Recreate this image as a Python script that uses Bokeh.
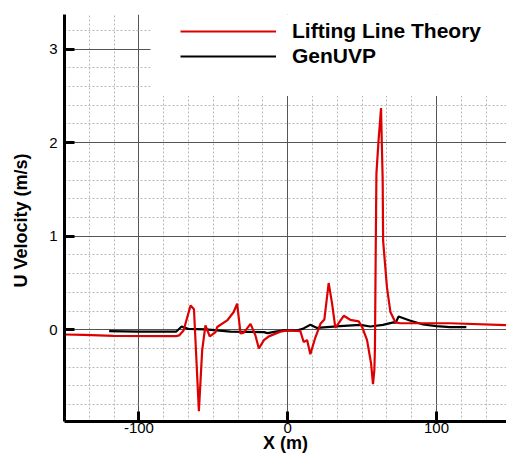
import math
from bokeh.plotting import figure
from bokeh.models import (Range1d, SingleIntervalTicker, Legend, LegendItem,
                          BoxAnnotation, ColumnDataSource)
from bokeh.embed import file_html
from bokeh.resources import INLINE

# ---- data ----
llt_x = [-150, -137, -117, -75, -73, -70, -65.3, -63, -59.7, -57.5, -55.3, -52.4,
         -48.5, -47.4, -40.7, -36.3, -34, -31.7, -29.5, -25, -21.7, -19.4, -16,
         -12.7, -5, 0, 8.5, 10.7, 13, 15.2, 18.6, 22, 24.6, 27.5, 29.8, 32, 37.6,
         42, 47.7, 50, 53.3, 56, 57.3, 58.2, 58.6, 59.2, 59.6, 61, 62.7, 63.2,
         63.8, 64.1, 66.7, 69, 72.3, 75.6, 109, 147]
llt_y = [-0.05, -0.055, -0.065, -0.068, -0.06, -0.007, 0.26, 0.22, -0.87, -0.22,
         0.046, -0.07, -0.025, 0.03, 0.1, 0.19, 0.28, -0.04, -0.03, 0.064, -0.06,
         -0.2, -0.11, -0.07, -0.02, -0.007, -0.015, -0.13, -0.11, -0.26, -0.08,
         0.064, 0.11, 0.5, 0.28, 0.02, 0.15, 0.107, 0.09, 0.03, -0.11, -0.36,
         -0.58, -0.43, -0.2, 1.0, 1.67, 2.02, 2.37, 2.0, 1.6, 0.95, 0.45, 0.19,
         0.08, 0.07, 0.07, 0.05]

uvp_x = [-120, -100, -75, -71.3, -67, -55, -38.5, -16, -13.6, -8, -3, 6.5, 10,
         15.2, 19.7, 35, 48.8, 55.5, 64, 71, 72.5, 74.5, 82, 91, 100, 109, 120]
uvp_y = [-0.015, -0.02, -0.02, 0.035, 0.01, 0.005, -0.02, -0.025, -0.036, -0.02,
         -0.007, -0.005, 0.01, 0.053, 0.02, 0.04, 0.053, 0.035, 0.053, 0.08, 0.075,
         0.142, 0.1, 0.057, 0.04, 0.028, 0.028]

series_names = ["Lifting Line Theory", "GenUVP"]
x_title = "X (m)"
y_title = "U Velocity  (m/s)"
x_tick_labels = {-100: "-100", 0: "0", 100: "100"}

FONT = "Liberation Sans"

p = figure(width=506, height=457,
           x_range=Range1d(-150, 147), y_range=Range1d(-0.98, 3.37),
           output_backend="svg", toolbar_location=None,
           min_border_left=64, min_border_right=0,
           min_border_top=14, min_border_bottom=36)
p.outline_line_color = None
p.background_fill_color = "white"
p.border_fill_color = "white"

p.xaxis.ticker = SingleIntervalTicker(interval=100, num_minor_ticks=6)
p.yaxis.ticker = SingleIntervalTicker(interval=1, num_minor_ticks=5)
p.xaxis.major_label_overrides = x_tick_labels

for ax in (p.xaxis[0], p.yaxis[0]):
    ax.axis_line_width = 3
    ax.axis_line_color = "black"
    ax.major_tick_line_width = 3
    ax.major_tick_line_color = "black"
    ax.major_tick_in = 10
    ax.major_tick_out = 0
    ax.minor_tick_in = 0
    ax.minor_tick_out = 0
    ax.major_label_text_font = FONT
    ax.major_label_text_font_size = "15px"
    ax.major_label_text_color = "black"
    ax.axis_label_text_font = FONT
    ax.axis_label_text_font_style = "bold"
    ax.axis_label_text_font_size = "18px"
    ax.axis_label_text_color = "black"

p.xaxis.axis_label = x_title
p.yaxis.axis_label = y_title
p.xaxis.major_label_standoff = 1
p.xaxis.axis_label_standoff = -3
p.yaxis.major_label_standoff = 7
p.yaxis.axis_label_standoff = 15

for g in (p.xgrid[0], p.ygrid[0]):
    g.grid_line_color = "#555555"
    g.grid_line_width = 1
    g.minor_grid_line_color = "#b8b8b8"
    g.minor_grid_line_width = 1
    g.minor_grid_line_dash = "2 2"

src_llt = ColumnDataSource(dict(x=llt_x, y=llt_y))
src_uvp = ColumnDataSource(dict(x=uvp_x, y=uvp_y))
r_uvp = p.line("x", "y", source=src_uvp, line_color="black", line_width=2.2)
r_llt = p.line("x", "y", source=src_llt, line_color="#dd0000", line_width=2.2)

# white panel behind the legend (hides the grid there)
p.add_layout(BoxAnnotation(left=-92.2, right=147, bottom=2.5, top=3.37,
                           fill_color="white", fill_alpha=1.0,
                           line_color=None, line_alpha=0))

legend = Legend(items=[LegendItem(label=series_names[0], renderers=[r_llt]),
                       LegendItem(label=series_names[1], renderers=[r_uvp])],
                location=(116, 353), orientation="vertical",
                padding=0, margin=0, spacing=1,
                glyph_width=96, glyph_height=24, label_height=24,
                label_standoff=16,
                label_text_font=FONT, label_text_font_style="bold",
                label_text_font_size="21px", label_text_color="black",
                background_fill_alpha=0, border_line_color=None)
p.add_layout(legend)

open("out.html", "w").write(file_html(p, INLINE))
